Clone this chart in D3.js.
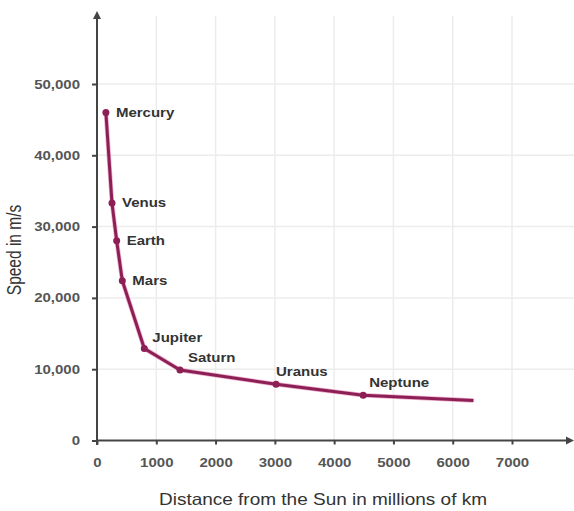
<!DOCTYPE html>
<html><head><meta charset="utf-8">
<script src="https://cdn.jsdelivr.net/npm/d3@7"></script>
<style>body{margin:0;background:#fff}svg{display:block}</style>
</head><body>
<svg id="c" width="574" height="511"></svg>
<script>
const planets = ["Mercury","Venus","Earth","Mars","Jupiter","Saturn","Uranus","Neptune",""];
const distances = [150, 253, 332, 427, 798, 1400, 3020, 4490, 6350];
const speeds = [46000, 33300, 28000, 22400, 12900, 9900, 7900, 6350, 5600];
const xTicks = [0,1000,2000,3000,4000,5000,6000,7000];
const yTicks = [0,10000,20000,30000,40000,50000];

const data = planets.map((p,i)=>({name:p, d:distances[i], s:speeds[i]}));
const svg = d3.select("#c");
const x = d3.scaleLinear().domain([0,7000]).range([97,512]);
const y = d3.scaleLinear().domain([0,50000]).range([440.5,84]);
const col = "#8c1f55";
const FONT = "Arial, Liberation Sans, sans-serif";
function stretch(sel, k){
  sel.each(function(){
    const L = this.getComputedTextLength();
    d3.select(this).attr("textLength", L*k).attr("lengthAdjust","spacingAndGlyphs");
  });
}

// grid
const g = svg.append("g").attr("stroke","#ececec").attr("stroke-width",1.5);
xTicks.slice(1).forEach(t=>g.append("line").attr("x1",x(t)).attr("x2",x(t)).attr("y1",16).attr("y2",440));
yTicks.slice(1).forEach(t=>g.append("line").attr("x1",97).attr("x2",574).attr("y1",y(t)).attr("y2",y(t)));

// axes
const xa = svg.append("g").attr("transform","translate(0,440.5)")
  .call(d3.axisBottom(x).tickValues(xTicks).tickSize(4).tickPadding(14).tickFormat(d3.format("d")));
xa.select(".domain").remove();
xa.selectAll("line").attr("stroke","#444").attr("stroke-width",2);
xa.selectAll("text").attr("fill","#555").attr("font-family",FONT).attr("font-size",12.5).attr("font-weight","bold").call(stretch,1.2);

const ya = svg.append("g").attr("transform","translate(97,0)")
  .call(d3.axisLeft(y).tickValues(yTicks).tickSize(5).tickPadding(12).tickFormat(d3.format(",")));
ya.select(".domain").remove();
ya.selectAll("line").attr("stroke","#444").attr("stroke-width",2);
ya.selectAll("text").attr("fill","#555").attr("font-family",FONT).attr("font-size",12.5).attr("font-weight","bold").call(stretch,1.2);

svg.append("line").attr("x1",97).attr("x2",571).attr("y1",440.5).attr("y2",440.5).attr("stroke","#444").attr("stroke-width",2);
svg.append("line").attr("x1",97).attr("x2",97).attr("y1",445).attr("y2",14).attr("stroke","#444").attr("stroke-width",2);
svg.append("path").attr("d","M93,19 L97,11 L101,19 Z").attr("fill","#444");
svg.append("path").attr("d","M566,436.5 L574,440.5 L566,444.5 Z").attr("fill","#444");

// line
const line = d3.line().x(d=>x(d.d)).y(d=>y(d.s));
svg.append("path").datum(data).attr("d",line).attr("fill","none").attr("stroke","#e0609a").attr("stroke-width",4.5).attr("stroke-linejoin","round").attr("opacity",0.5);
svg.append("path").datum(data).attr("d",line).attr("fill","none").attr("stroke",col).attr("stroke-width",3).attr("stroke-linejoin","round");
const pts = data.filter(d=>d.name);
svg.selectAll("circle.p").data(pts).join("circle").attr("cx",d=>x(d.d)).attr("cy",d=>y(d.s)).attr("r",3.5).attr("fill",col);

// labels
const off = {Mercury:[10,0],Venus:[10,0],Earth:[10,0],Mars:[10,0],Jupiter:[8,-11],Saturn:[8,-12],Uranus:[0,-13],Neptune:[6,-13]};
svg.selectAll("text.lab").data(pts).join("text").attr("class","lab")
  .attr("x",d=>x(d.d)+off[d.name][0]).attr("y",d=>y(d.s)+off[d.name][1]).attr("dy","0.35em")
  .attr("font-family",FONT).attr("font-size",12.5).attr("font-weight","bold").attr("fill","#333")
  .text(d=>d.name).call(stretch,1.2);

// titles
svg.append("text").attr("x",323).attr("y",505).attr("text-anchor","middle")
  .attr("font-family",FONT).attr("font-size",16.5).attr("fill","#333")
  .text("Distance from the Sun in millions of km").attr("textLength",328).attr("lengthAdjust","spacingAndGlyphs");
svg.append("text").attr("transform","translate(21,250) rotate(-90) scale(1,1.25)").attr("text-anchor","middle")
  .attr("font-family",FONT).attr("font-size",15.5).attr("fill","#333")
  .text("Speed in m/s");
</script>
</body></html>
